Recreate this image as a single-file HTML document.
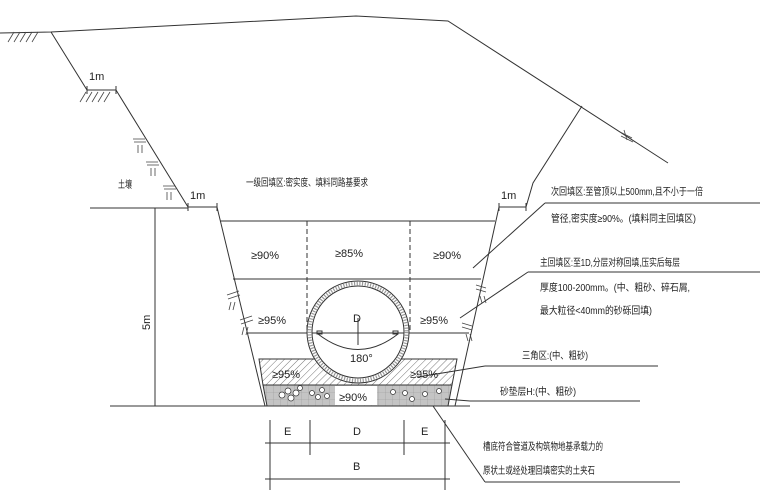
<!DOCTYPE html>
<html><head><meta charset="utf-8"><style>
html,body{margin:0;padding:0;background:#fff;width:760px;height:503px;overflow:hidden}
svg{display:block}
text{font-family:"Liberation Sans","Noto Sans CJK SC",sans-serif;fill:#222}
</style></head><body>
<svg width="760" height="503" viewBox="0 0 760 503" xmlns="http://www.w3.org/2000/svg">
<defs>
<pattern id="hat" width="5" height="5" patternUnits="userSpaceOnUse" patternTransform="rotate(45)">
<line x1="0" y1="0" x2="0" y2="5" stroke="#555" stroke-width="0.8"/></pattern>
<pattern id="grid" width="7" height="7" patternUnits="userSpaceOnUse">
<rect width="7" height="7" fill="#c4c4c4"/><path d="M0 0H7M0 0V7" stroke="#999" stroke-width="0.6"/></pattern>
</defs>
<g stroke="#333" stroke-width="1" fill="none">
<!-- ground -->
<polyline points="0,33 51,32 356,16 448,21 668,163"/>
<!-- left slope -->
<polyline points="51,32 87,90 116,90 188,207 217,207"/>
<line x1="90" y1="208" x2="188" y2="208"/>
<!-- right slope -->
<polyline points="499,207 526,207 533,183 582,106"/>
<!-- trench -->
<line x1="217" y1="207" x2="265" y2="406"/>
<line x1="499" y1="207" x2="455" y2="406"/>
<line x1="220" y1="221" x2="495" y2="221"/>
<line x1="233" y1="279" x2="481" y2="279"/>
<line x1="248" y1="333" x2="469" y2="333"/>
<line x1="110" y1="406" x2="470" y2="406"/>
<line x1="155" y1="208" x2="155" y2="406"/>
<line x1="307" y1="221" x2="307" y2="333" stroke-dasharray="5,3"/>
<line x1="410" y1="221" x2="410" y2="333" stroke-dasharray="5,3"/>
</g>
<polygon points="259,359 457,359 452,385 263,385" fill="url(#hat)" stroke="#333"/>
<polygon points="263,385 452,385 448,406 267,406" fill="url(#grid)" stroke="#333"/>
<rect x="335" y="386" width="42" height="19" fill="#fff"/>
<g fill="#fff" stroke="#333" stroke-width="0.7">
<circle cx="282" cy="395" r="3"/><circle cx="288" cy="391" r="3"/><circle cx="291" cy="398" r="3"/><circle cx="296" cy="393" r="3"/><circle cx="300" cy="388" r="2.5"/><circle cx="312" cy="393" r="2.5"/><circle cx="318" cy="397" r="2.5"/><circle cx="322" cy="390" r="2.5"/><circle cx="327" cy="396" r="2.5"/>
<circle cx="393" cy="392" r="2.5"/><circle cx="405" cy="393" r="2.5"/><circle cx="412" cy="399" r="2.5"/><circle cx="425" cy="394" r="2.5"/><circle cx="439" cy="391" r="2.5"/>
</g>
<circle cx="358" cy="332" r="51" fill="#fff" stroke="#333" stroke-width="1"/>
<circle cx="358" cy="332" r="48.5" fill="none" stroke="#999" stroke-width="3.5" stroke-dasharray="1.2,1.5"/>
<circle cx="358" cy="332" r="46" fill="#fff" stroke="#333" stroke-width="1"/>
<g stroke="#333" fill="none" stroke-width="1">
<line x1="312" y1="333" x2="404" y2="333"/>
<path d="M318 334 Q358 365 398 334"/>
<line x1="358" y1="318" x2="358" y2="345"/>
<rect x="317" y="331" width="5" height="3"/><rect x="393" y="331" width="5" height="3"/>
<line x1="473" y1="268" x2="545" y2="203"/><line x1="545" y1="203" x2="760" y2="203"/>
<line x1="460" y1="318" x2="528" y2="272"/><line x1="528" y1="272" x2="760" y2="272"/>
<line x1="418" y1="377" x2="485" y2="366"/><line x1="485" y1="366" x2="658" y2="366"/>
<line x1="445" y1="399" x2="470" y2="401"/><line x1="470" y1="401" x2="640" y2="401"/>
<line x1="433" y1="406" x2="485" y2="482"/><line x1="485" y1="482" x2="680" y2="482"/>
<path d="M87 86v8M116 86v8M188 203v8M217 203v8M499 203v8M526 203v8"/>
<line x1="270" y1="420" x2="270" y2="490"/><line x1="310" y1="420" x2="310" y2="455"/>
<line x1="404" y1="420" x2="404" y2="455"/><line x1="445" y1="420" x2="445" y2="490"/>
<line x1="265" y1="443" x2="450" y2="443"/><line x1="265" y1="479" x2="450" y2="479"/>
</g>
<g stroke="#444" stroke-width="0.8">
<path d="M8 42l6-10M14 42l6-10M20 42l6-10M26 42l6-10M32 42l6-10"/>
<path d="M80 102l6-10M86 102l6-10M92 102l6-10M98 102l6-10M104 102l6-10"/>
<path d="M133 139h12M134 142h12M138 145v8M142 145v8M146 162h12M147 165h12M151 168v8M155 168v8M163 186h12M164 189h12M167 192v8M171 192v8"/>
<path d="M227 295l12-4M228 299l12-4M231 302l-2 8M235 302l-2 8M240 320l12-4M241 324l12-4M244 327l-2 8M248 327l-2 8"/>
<path d="M486 288l-10-3M486 292l-10-3M484 296l2 7M480 296l2 7M472 326l-10-3M472 330l-10-3M470 334l2 7M466 334l2 7"/>
<path d="M620 132l12 6M621 136l12 6M624 130l3 10"/>
</g>
<g font-size="11">
<text x="89" y="80">1m</text><text x="190" y="199">1m</text><text x="501" y="199">1m</text>
<text x="118" y="188" font-size="10" textLength="14" lengthAdjust="spacingAndGlyphs">土壤</text>
<text x="246" y="186" font-size="10" textLength="122" lengthAdjust="spacingAndGlyphs">一级回填区:密实度、填料同路基要求</text>
<text x="551" y="195" font-size="10" textLength="152" lengthAdjust="spacingAndGlyphs">次回填区:至管顶以上500mm,且不小于一倍</text>
<text x="551" y="222" font-size="10" textLength="145" lengthAdjust="spacingAndGlyphs">管径,密实度≥90%。(填料同主回填区)</text>
<text x="540" y="266" font-size="10" textLength="140" lengthAdjust="spacingAndGlyphs">主回填区:至1D,分层对称回填,压实后每层</text>
<text x="540" y="291" font-size="10" textLength="150" lengthAdjust="spacingAndGlyphs">厚度100-200mm。(中、粗砂、碎石屑,</text>
<text x="540" y="314" font-size="10" textLength="112" lengthAdjust="spacingAndGlyphs">最大粒径&lt;40mm的砂砾回填)</text>
<text x="522" y="359" font-size="10" textLength="66" lengthAdjust="spacingAndGlyphs">三角区:(中、粗砂)</text>
<text x="500" y="395" font-size="10" textLength="76" lengthAdjust="spacingAndGlyphs">砂垫层H:(中、粗砂)</text>
<text x="483" y="450" font-size="10" textLength="120" lengthAdjust="spacingAndGlyphs">槽底符合管道及构筑物地基承载力的</text>
<text x="483" y="474" font-size="10" textLength="112" lengthAdjust="spacingAndGlyphs">原状土或经处理回填密实的土夹石</text>
<text x="251" y="259">≥90%</text><text x="335" y="257">≥85%</text><text x="433" y="259">≥90%</text>
<text x="258" y="324">≥95%</text><text x="420" y="324">≥95%</text>
<text x="272" y="378">≥95%</text><text x="410" y="378">≥95%</text>
<text x="339" y="401">≥90%</text>
<text x="353" y="322">D</text><text x="350" y="362">180°</text>
<text x="284" y="435">E</text><text x="353" y="435">D</text><text x="421" y="435">E</text><text x="353" y="470">B</text>
<text x="0" y="0" transform="translate(150,330) rotate(-90)">5m</text>
</g>
</svg>
</body></html>
